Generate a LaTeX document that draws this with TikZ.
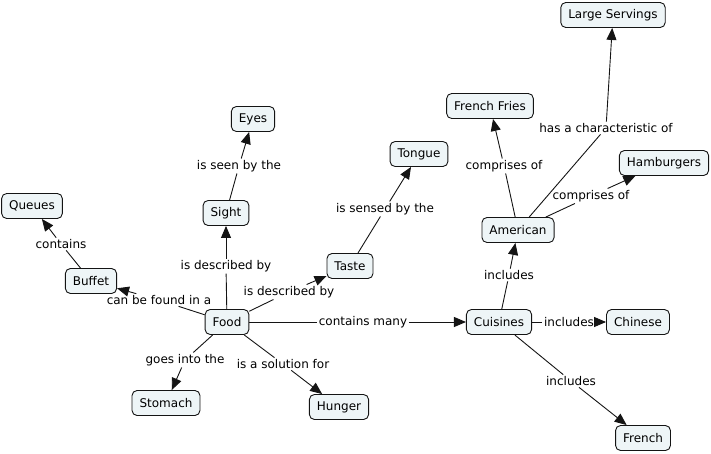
\documentclass[tikz,border=0pt]{standalone}
\usepackage{fontspec}
\setmainfont{DejaVu Sans}
\usetikzlibrary{arrows.meta}
\definecolor{cfill}{RGB}{238,245,247}
\definecolor{cline}{RGB}{20,20,20}
\tikzset{
  concept/.style={draw=cline, fill=cfill, rounded corners=5pt, line width=0.9pt,
    inner xsep=7.5pt, inner ysep=0pt, minimum height=25pt, font=\fontsize{12}{14}\selectfont},
  phrase/.style={fill=white, inner xsep=1.5pt, inner ysep=1.5pt, font=\fontsize{12}{14}\selectfont},
  link/.style={draw=cline, line width=0.9pt},
  arr/.style={link, -{Triangle[length=12pt,width=10pt]}},
}
\begin{document}
\begin{tikzpicture}[x=1pt,y=-1pt]
\useasboundingbox (0,0) rectangle (711,453);
% concepts
\node[concept] (large) at (613,15) {Large Servings};
\node[concept] (fries) at (490,106) {French Fries};
\node[concept] (hamb) at (664,163) {Hamburgers};
\node[concept] (eyes) at (253,119) {Eyes};
\node[concept] (tongue) at (419,154) {Tongue};
\node[concept] (queues) at (32,206) {Queues};
\node[concept] (sight) at (226,213) {Sight};
\node[concept] (amer) at (518,230) {American};
\node[concept] (taste) at (350,266) {Taste};
\node[concept] (buffet) at (91,281) {Buffet};
\node[concept] (food) at (227,322) {Food};
\node[concept] (cuis) at (499,322) {Cuisines};
\node[concept] (chin) at (638,322) {Chinese};
\node[concept] (stom) at (166,403) {Stomach};
\node[concept] (hung) at (339,407) {Hunger};
\node[concept] (french) at (643,438) {French};
% linking phrases
\node[phrase] (lchar) at (606,128) {has a characteristic of};
\node[phrase] (lcomp1) at (504,166) {comprises of};
\node[phrase] (lcomp2) at (591,196) {comprises of};
\node[phrase] (lseen) at (239,166) {is seen by the};
\node[phrase] (lsensed) at (385,209) {is sensed by the};
\node[phrase] (lcont) at (61,244) {contains};
\node[phrase] (ldesc1) at (226,266) {is described by};
\node[phrase] (ldesc2) at (289,292) {is described by};
\node[phrase] (lfound) at (159,300) {can be found in a};
\node[phrase] (lmany) at (363,322) {contains many};
\node[phrase] (linc1) at (509,275) {includes};
\node[phrase] (linc2) at (569,322) {includes};
\node[phrase] (lgoes) at (185,360) {goes into the};
\node[phrase] (lsol) at (283,364) {is a solution for};
\node[phrase] (linc3) at (571,381) {includes};
% connectors
\begin{scope}[on background layer/.style={}]
\draw[link] (food) -- (lfound); \draw[arr] (lfound) -- (buffet);
\draw[link] (buffet) -- (lcont); \draw[arr] (lcont) -- (queues);
\draw[link] (food) -- (ldesc1); \draw[arr] (ldesc1) -- (sight);
\draw[link] (sight) -- (lseen); \draw[arr] (lseen) -- (eyes);
\draw[link] (food) -- (ldesc2); \draw[arr] (ldesc2) -- (taste);
\draw[link] (taste) -- (lsensed); \draw[arr] (lsensed) -- (tongue);
\draw[link] (food) -- (lmany); \draw[arr] (lmany) -- (cuis);
\draw[link] (food) -- (lgoes); \draw[arr] (lgoes) -- (stom);
\draw[link] (food) -- (lsol); \draw[arr] (lsol) -- (hung);
\draw[link] (cuis) -- (linc1); \draw[arr] (linc1) -- (amer);
\draw[link] (cuis) -- (linc2); \draw[arr] (linc2) -- (chin);
\draw[link] (cuis) -- (linc3); \draw[arr] (linc3) -- (french);
\draw[link] (amer) -- (lcomp1); \draw[arr] (lcomp1) -- (fries);
\draw[link] (amer) -- (lcomp2); \draw[arr] (lcomp2) -- (hamb);
\draw[link] (amer) -- (lchar); \draw[arr] (lchar) -- (large);
\end{scope}
\end{tikzpicture}
\end{document}
